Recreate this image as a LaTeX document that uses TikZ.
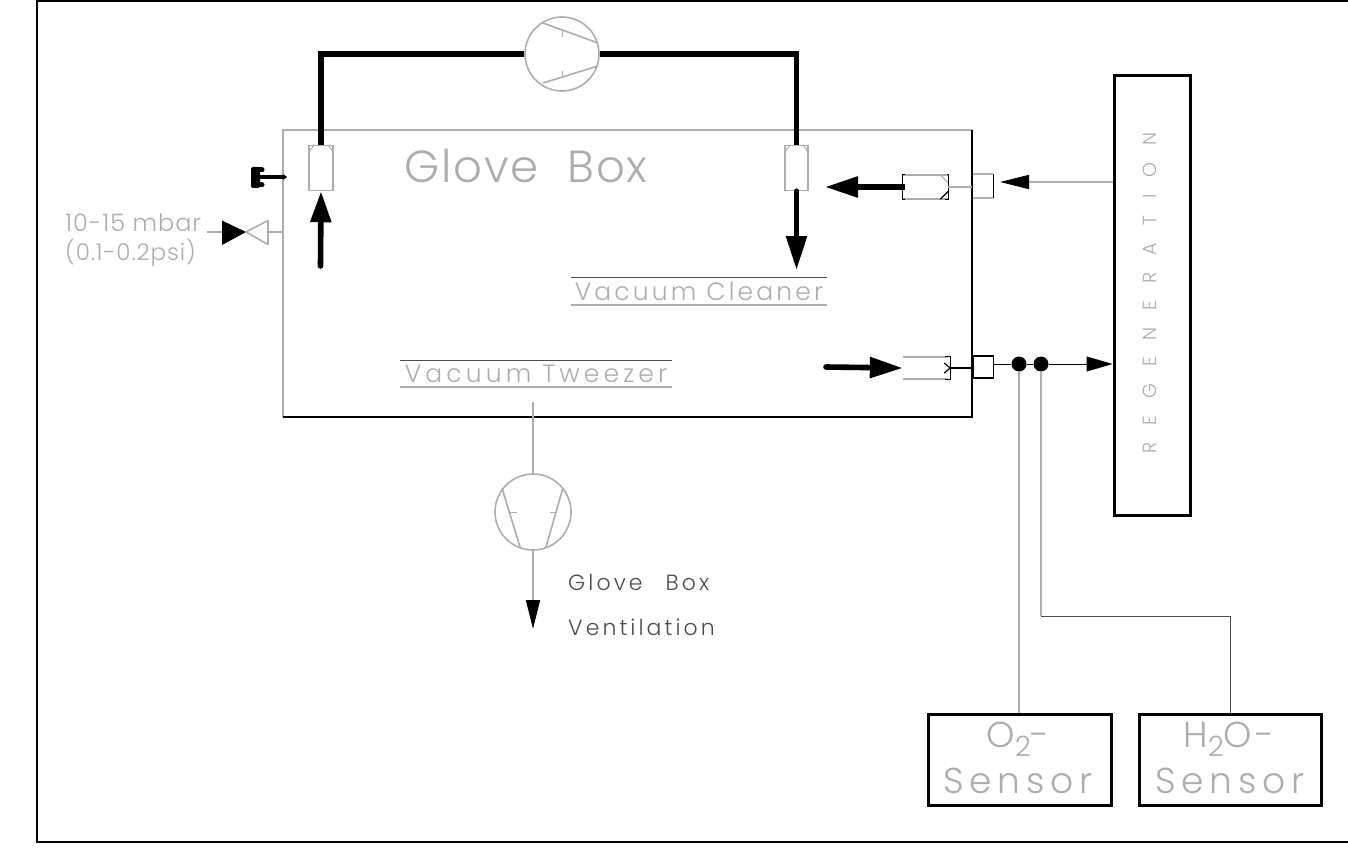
\documentclass[tikz,border=0pt]{standalone}
\usepackage{fontspec}
\setmainfont{Liberation Sans}
\newfontfamily\cad[UprightFont=* Light,LetterSpace=4]{Poppins}
\usetikzlibrary{arrows.meta,calc}
\definecolor{ltgray}{gray}{0.68}
\definecolor{dkgray}{gray}{0.3}
\newcommand{\subtwo}{\raisebox{-9pt}{\fontsize{28}{28}\selectfont 2}}
\tikzset{
  gline/.style={draw=ltgray,line width=1.6pt},
  tline/.style={draw=dkgray,line width=0.9pt},
  bline/.style={draw=black,line width=1.2pt},
  pipe/.style={draw=black,line width=5.6pt},
  bigtip/.style={-{Triangle[length=31pt,width=20pt]}},
  frame/.style={draw=black,line width=3pt,inner sep=0pt,fill=white},
  pumpc/.style={circle,draw=ltgray,line width=1.6pt,inner sep=0pt,minimum size=74pt},
  filt/.style={rectangle,draw=ltgray,line width=1.5pt,fill=white,inner sep=0pt},
  portbox/.style={rectangle,fill=white,inner sep=0pt},
  lab/.style={text=ltgray,inner sep=0pt,font=\cad},
  dot/.style={circle,fill=black,inner sep=0pt,minimum size=15pt}
}
\begin{document}
\begin{tikzpicture}[x=1pt,y=-1pt]
\useasboundingbox (0,0) rectangle (1348,861);
% outer frame
\coordinate (fTL) at (37,1);\coordinate (fTR) at (1348,1);
\coordinate (fBL) at (37,842);\coordinate (fBR) at (1348,842);
\draw[draw=black,line width=2.8pt] (fTR) -- (fTL) -- (fBL) -- (fBR);
% glove box walls
\coordinate (bTL) at (283,130);\coordinate (bTR) at (972,130);
\coordinate (bBL) at (283,417);\coordinate (bBR) at (972,417);
\draw[gline] (bBL) -- (bTL) -- (bTR);
\draw[bline] (bTR) -- (bBR) -- (bBL);
\node[lab,font=\cad\fontsize{45}{45}\selectfont] (gb) at (526,166) {Glove\,\, Box};
% top pump
\node[pumpc] (pumpT) at (562,54) {};
\coordinate (pa1) at (543,23);\coordinate (pa2) at (598,43);
\coordinate (pa3) at (543,83);\coordinate (pa4) at (598,66);
\coordinate (tk1) at (562,30);\coordinate (tk2) at (562,37);
\coordinate (tk3) at (562,71);\coordinate (tk4) at (562,78);
\draw[gline] (pa1) -- (pa2) (pa3) -- (pa4);
\draw[ltgray,line width=1pt] (tk1) -- (tk2) (tk3) -- (tk4);
% filters
\node[filt,minimum width=24pt,minimum height=45pt] (fL) at (321,168) {};
\node[filt,minimum width=23pt,minimum height=45pt] (fR) at (796.5,168) {};
\draw[ltgray,line width=1pt] ($(fL.north west)+(0,8)$) -- ($(fL.north west)+(6,0)$) ($(fL.north east)+(0,8)$) -- ($(fL.north east)+(-6,0)$);
\draw[ltgray,line width=1pt] ($(fR.north west)+(0,8)$) -- ($(fR.north west)+(6,0)$) ($(fR.north east)+(0,8)$) -- ($(fR.north east)+(-6,0)$);
% main loop
\draw[pipe,line join=miter] (fL.north) |- (pumpT.west);
\draw[pipe,line join=miter] (fR.north) |- (pumpT.east);
% suction and outlet arrows
\coordinate (inL) at (320.5,266);
\draw[pipe,bigtip,line cap=round] (inL) -- (fL.south);
\coordinate (outR) at (796.5,270);
\draw[pipe,-{Triangle[length=34pt,width=20pt]},line cap=round] (fR.south) -- (outR);
% handle
\coordinate (hA) at (262,177);\coordinate (hB) at (287,177);
\draw[draw=black,line width=3.4pt,-{Stealth[length=4pt,width=6pt]}] (hA) -- (hB);
\node[draw=none,fill=black,rounded corners=2pt,minimum width=9pt,minimum height=21pt,inner sep=0pt] (handle) at (255.5,177.5) {};
\coordinate (hC) at (262,170);\coordinate (hD) at (258,170);\coordinate (hE) at (262,185);\coordinate (hF) at (258,185);
\coordinate (hG) at (258,177);
\draw[line width=5pt,line cap=round] (hC) -- (hD) (hE) -- (hF);
\draw[line width=3.4pt] (hG) -- (hA);
% valve
\coordinate (vC) at (246,232);
\coordinate (vA) at (222,220.5);\coordinate (vB) at (222,245);
\coordinate (vD) at (268,220.5);\coordinate (vE) at (268,244.5);
\coordinate (vIn) at (207,232);\coordinate (vWall) at (283,232);\coordinate (vL) at (222,232);\coordinate (vR) at (268,232);
\fill[black] (vA) -- (vC) -- (vB) -- cycle;
\draw[gline,line join=round] (vC) -- (vD) -- (vE) -- cycle;
\draw[gline] (vIn) -- (vL) (vR) -- (vWall);
\node[lab,anchor=west,font=\cad\fontsize{24}{24}\selectfont] (p1) at (65,223) {10-15 mbar};
\node[lab,anchor=west,font=\cad\fontsize{23}{23}\selectfont] (p2) at (65,253) {(0.1-0.2psi)};
% vacuum labels
\node[lab,font=\cad\fontsize{25}{25}\selectfont\addfontfeature{LetterSpace=12.6}] (vc) at (699,291) {Vacuum Cleaner};
\coordinate (vc1) at (571,277.5);\coordinate (vc2) at (827,277.5);\coordinate (vc3) at (571,305);\coordinate (vc4) at (827,305);
\draw[tline] (vc1) -- (vc2); \draw[gline] (vc3) -- (vc4);
\node[lab,font=\cad\fontsize{25}{25}\selectfont\addfontfeature{LetterSpace=16.5}] (vt) at (536,374) {Vacuum Tweezer};
\coordinate (vt1) at (400,360.5);\coordinate (vt2) at (672,360.5);\coordinate (vt3) at (400,387);\coordinate (vt4) at (672,387);
\draw[tline] (vt1) -- (vt2); \draw[gline] (vt3) -- (vt4);
% regeneration
\node[frame,minimum width=76pt,minimum height=439pt] (regen) at (1152,295.5) {};
\node[lab,rotate=90,font=\cad\fontsize{19}{19}\selectfont\addfontfeature{LetterSpace=90}] (rt) at (1150,293) {REGENERATION};
% upper regeneration line
\node[portbox,minimum width=45pt,minimum height=24pt] (c1) at (925.5,187) {};
\node[portbox,minimum width=20pt,minimum height=24pt] (c2) at (983,186) {};
\draw[gline] (c1.north west) -- (c1.north east) (c1.south west) -- (c1.south east);
\draw[ltgray,line width=1pt] ($(c1.north east)+(-8,0)$) -- ($(c1.north east)+(0,8)$);
\draw[bline] ($(c1.south east)+(-8,0)$) -- ($(c1.south east)+(0,-8)$);
\draw[gline] (c2.north west) -- (c2.north east) (c2.south west) -- (c2.south east);
\draw[bline] ($(c1.north east)+(-1,0)$) -- (c1.north east) -- (c1.south east) -- ($(c1.south east)+(-3,0)$);
\draw[bline] (c2.north east) -- (c2.south east);
\draw[bline] ($(c1.north west)+(2,0)$) -- (c1.north west) -- (c1.south west) -- ($(c1.south west)+(2,0)$);
\coordinate (tipU) at (825,187);
\draw[pipe,-{Triangle[length=33pt,width=20pt]}] ($(c1.west)+(2,0)$) -- (tipU);
\draw[gline] (c1.east) -- (bBR |- c1.east);
\coordinate (rU) at (1113,182);\coordinate (tipV) at (1000,182);
\draw[gline,-{Triangle[length=29pt,width=14pt,fill=black,color=black]}] (rU) -- (tipV);
% lower regeneration line
\node[portbox,minimum width=45pt,minimum height=22pt] (c3) at (925.5,368) {};
\node[draw=black,line width=1.1pt,minimum width=20pt,minimum height=22pt,inner sep=0pt,fill=white] (c4) at (983.5,367) {};
\draw[gline] (c3.north west) -- (c3.north east) (c3.south west) -- (c3.south east);
\draw[bline] ($(c3.north east)+(-3,0)$) -- ($(c3.north east)+(2,0)$) -- ($(c3.south east)+(2,0)$) -- ($(c3.south east)+(-3,0)$);
\draw[bline] ($(c3.east)+(-4,-5)$) -- ($(c3.east)+(2,0)$) -- ($(c3.east)+(-4,5)$);
\draw[bline] ($(c3.east)+(2,0)$) -- (c4.west |- c3.east);
\coordinate (inV) at (826,367);
\draw[pipe,-{Triangle[length=33pt,width=20pt]},line cap=round] (inV) -- (c3.west);
\node[dot] (d1) at (1019,364) {};
\node[dot] (d2) at (1041,364) {};
\draw[bline,line width=1pt] (c4.east |- d1) -- (d1);
\draw[bline,line width=1pt] (d1) -- (d2);
\draw[bline,line width=1pt,-{Triangle[length=26pt,width=15pt,fill=black,color=black]}] (d2) -- (regen.west |- d2);
% sensors
\node[frame,minimum width=183pt,minimum height=91pt] (s1) at (1019.5,759.5) {};
\node[frame,minimum width=182pt,minimum height=91pt] (s2) at (1230,759.5) {};
\node[lab,font=\cad\fontsize{36}{36}\selectfont\addfontfeature{LetterSpace=10}] (s1a) at (1018,739) {O\subtwo-};
\node[lab,font=\cad\fontsize{36}{36}\selectfont\addfontfeature{LetterSpace=16.5}] (s1b) at (1018,781) {Sensor};
\node[lab,font=\cad\fontsize{36}{36}\selectfont\addfontfeature{LetterSpace=10}] (s2a) at (1229,739) {H\subtwo O-};
\node[lab,font=\cad\fontsize{36}{36}\selectfont\addfontfeature{LetterSpace=16.5}] (s2b) at (1230,781) {Sensor};
\draw[gline,line width=2.4pt] (d1.south) -- (d1.south |- s1.north);
\coordinate (elbow) at (1041,616);
\draw[gline,line width=2.4pt] (d2.south) -- (elbow);
\draw[tline] (elbow) -| (s2.north);
% bottom pump
\node[pumpc,minimum size=76pt] (pumpB) at (533,512) {};
\coordinate (ventTop) at (533,402);\coordinate (ventEnd) at (533,629);
\draw[gline] (ventTop) -- (pumpB.north);
\draw[gline,-{Triangle[length=29pt,width=14pt,fill=black,color=black]}] (pumpB.south) -- (ventEnd);
\coordinate (pb1) at (502,488);\coordinate (pb2) at (520,547);\coordinate (pb3) at (563,488);\coordinate (pb4) at (546,547);
\coordinate (tb1) at (510,512);\coordinate (tb2) at (517,512);\coordinate (tb3) at (550,512);\coordinate (tb4) at (557,512);
\draw[gline] (pb1) -- (pb2) (pb3) -- (pb4);
\draw[ltgray,line width=1pt] (tb1) -- (tb2) (tb3) -- (tb4);
\node[anchor=west,inner sep=0pt,text=dkgray,font=\cad\fontsize{22}{22}\selectfont\addfontfeature{LetterSpace=14}] (gv1) at (568,582) {Glove\hspace{14pt} Box};
\node[anchor=west,inner sep=0pt,text=dkgray,font=\cad\fontsize{22}{22}\selectfont\addfontfeature{LetterSpace=14}] (gv2) at (568,627) {Ventilation};
\end{tikzpicture}
\end{document}
